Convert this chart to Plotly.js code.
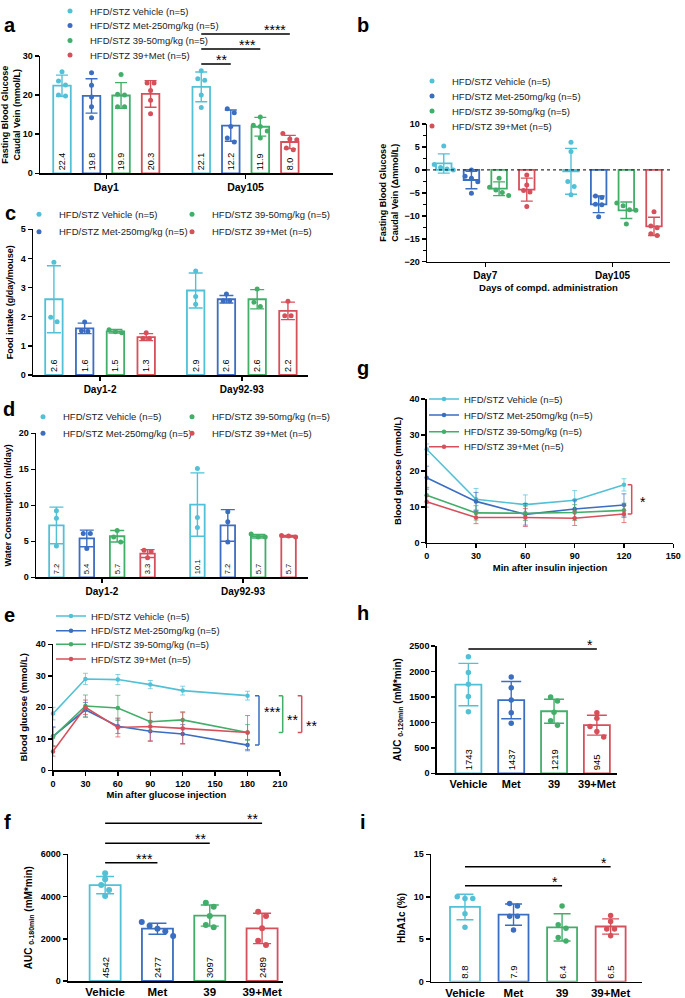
<!DOCTYPE html>
<html><head><meta charset="utf-8">
<script src="https://cdn.plot.ly/plotly-3.0.1.min.js"></script>
<style>html,body{margin:0;padding:0;background:#fff}</style>
</head><body>
<div id="chart" style="width:685px;height:998px"></div>
<script>
// ---------------- DATA ----------------
const seriesNames = ['HFD/STZ Vehicle (n=5)', 'HFD/STZ Met-250mg/kg (n=5)', 'HFD/STZ 39-50mg/kg (n=5)', 'HFD/STZ 39+Met (n=5)'];

// a: fasting blood glucose (mmol/L)
const aCategories = ['Day1', 'Day105'];
const aMean = [[22.4, 22.1], [19.8, 12.2], [19.9, 11.9], [20.3, 8.0]];
const aSD = [[2.7, 3.8], [4.4, 4.0], [3.3, 2.4], [3.4, 1.7]];
const aPoints = [
  [[26.0, 23.6, 22.6, 20.0, 19.8], [26.2, 24.2, 23.8, 20.0, 16.8]],
  [[25.7, 22.5, 19.5, 17.0, 14.2], [16.5, 15.5, 12.0, 9.0, 8.0]],
  [[25.3, 20.2, 20.0, 17.0, 17.0], [14.4, 12.3, 12.0, 10.8, 9.0]],
  [[23.1, 23.1, 21.2, 18.7, 15.2], [10.2, 8.8, 8.6, 6.5, 6.0]]
];

// b: change of fasting blood glucose (delta mmol/L)
const bCategories = ['Day7', 'Day105'];
const bMean = [[1.4, -0.3], [-2.2, -7.5], [-4.1, -8.8], [-4.3, -12.3]];
const bSD = [[2.1, 5.0], [1.9, 1.8], [1.5, 1.8], [2.5, 2.0]];
const bPoints = [
  [[5.2, 1.2, 0.5, 0.2, 0.0], [6.0, 4.0, -2.5, -3.6, -5.4]],
  [[0.0, -1.4, -1.8, -2.6, -5.1], [-5.7, -6.0, -7.5, -7.6, -10.2]],
  [[-1.8, -3.8, -4.4, -4.9, -5.6], [-7.2, -7.8, -8.7, -8.8, -11.8]],
  [[-1.1, -3.3, -4.5, -4.8, -8.0], [-9.1, -12.2, -12.6, -13.9, -14.3]]
];

// c: food intake (g/day/mouse)
const cCategories = ['Day1-2', 'Day92-93'];
const cMean = [[2.6, 2.9], [1.6, 2.6], [1.5, 2.6], [1.3, 2.2]];
const cSD = [[1.15, 0.6], [0.18, 0.13], [0.06, 0.33], [0.12, 0.3]];
const cPoints = [
  [[3.87, 1.98, 1.83], [3.57, 2.69, 2.43]],
  [[1.82, 1.52, 1.5], [2.78, 2.55, 2.55]],
  [[1.55, 1.48, 1.45], [2.95, 2.5, 2.35]],
  [[1.45, 1.25, 1.25], [2.53, 2.03, 2.03]]
];

// d: water consumption (ml/day)
const dCategories = ['Day1-2', 'Day92-93'];
const dMean = [[7.2, 10.1], [5.4, 7.2], [5.7, 5.7], [3.3, 5.7]];
const dSD = [[2.55, 4.4], [1.15, 2.2], [0.8, 0.25], [0.55, 0.1]];
const dPoints = [
  [[9.25, 8.2, 4.35], [15.1, 8.3, 6.9]],
  [[6.1, 6.1, 4.0], [9.1, 7.7, 4.9]],
  [[6.5, 5.6, 4.9], [6.0, 5.6, 5.6]],
  [[3.75, 3.6, 2.7], [5.8, 5.75, 5.6]]
];

// e: glucose tolerance (mmol/L)
const eTime = [0, 30, 60, 90, 120, 180];
const eMean = [
  [18.0, 29.0, 28.8, 27.2, 25.3, 23.7],
  [10.8, 19.2, 14.0, 12.4, 11.5, 8.0],
  [10.6, 20.4, 19.8, 15.4, 16.0, 12.0],
  [6.0, 20.0, 13.6, 13.9, 13.3, 12.0]
];
const eSD = [
  [2.0, 1.8, 1.6, 1.3, 1.4, 1.4],
  [3.0, 2.3, 2.3, 3.2, 3.0, 1.8],
  [3.0, 3.5, 4.0, 3.0, 2.6, 2.5],
  [1.5, 2.3, 3.0, 4.5, 5.0, 5.4]
];

// f: AUC 0-180 min
const fCategories = ['Vehicle', 'Met', '39', '39+Met'];
const fMean = [4542, 2477, 3097, 2489];
const fSD = [410, 260, 500, 720];
const fPoints = [[5100, 4820, 4550, 4310, 4030], [2790, 2620, 2480, 2360, 2135], [3710, 3520, 3080, 2650, 2545], [3280, 3080, 2500, 1910, 1700]];

// g: insulin tolerance (mmol/L)
const gTime = [0, 30, 60, 90, 120];
const gMean = [
  [26.0, 12.1, 10.6, 11.8, 16.1],
  [18.1, 11.5, 7.9, 9.4, 10.5],
  [13.2, 8.3, 8.2, 8.4, 9.0],
  [11.4, 7.0, 7.0, 6.8, 8.0]
];
const gSD = [
  [1.5, 3.0, 2.7, 2.7, 1.7],
  [3.2, 2.5, 3.0, 2.5, 3.1],
  [2.2, 2.0, 2.0, 2.2, 2.0],
  [1.5, 1.7, 2.5, 2.0, 2.4]
];

// h: AUC 0-120 min
const hCategories = ['Vehicle', 'Met', '39', '39+Met'];
const hMean = [1743, 1437, 1219, 945];
const hSD = [415, 365, 235, 195];
const hPoints = [[2290, 1980, 1750, 1510, 1210], [1890, 1680, 1440, 1190, 985], [1500, 1420, 1200, 1030, 945], [1190, 1080, 920, 820, 715]];

// i: HbA1c (%)
const iCategories = ['Vehicle', 'Met', '39', '39+Met'];
const iMean = [8.8, 7.9, 6.4, 6.5];
const iSD = [1.5, 1.25, 1.6, 0.9];
const iPoints = [[10.0, 9.8, 9.8, 8.0, 6.4], [9.2, 8.9, 7.7, 7.7, 6.1], [8.9, 6.7, 6.3, 5.2, 4.8], [7.8, 7.1, 6.2, 6.2, 5.4]];

// ---------------- STYLE / LAYOUT ----------------
const W = 685, H = 998;
const FONT = '"Liberation Sans", Arial, Helvetica, sans-serif';
const COLORS = ['#52c1d6', '#3b6dc0', '#43ae6a', '#d6505b'];
const ERR_LINE = ['rgba(82,193,214,0.7)', 'rgba(59,109,192,0.7)', 'rgba(67,174,106,0.7)', 'rgba(214,80,91,0.7)'];
const fx = p => p / W;
const fy = p => 1 - p / H;
const BOLD = size => ({family: FONT, size: size, color: '#000', weight: 'bold'});

const traces = [];
const layout = {
  width: W, height: H, margin: {l: 0, r: 0, t: 0, b: 0, autoexpand: false},
  paper_bgcolor: '#fff', plot_bgcolor: 'rgba(0,0,0,0)',
  barmode: 'overlay', showlegend: true,
  font: {family: FONT, size: 9, color: '#000'},
  shapes: [], annotations: []
};

// one single-entry legend per series row (ids start at 5)
let legendCount = 4;
function makeLegend(symbolX, rowY) {
  legendCount += 1;
  const id = 'legend' + legendCount;
  layout[id] = {x: fx(symbolX - 20), y: fy(rowY), xref: 'paper', yref: 'paper', xanchor: 'left', yanchor: 'middle',
    bgcolor: 'rgba(0,0,0,0)', borderwidth: 0, font: {family: FONT, size: 9.5, color: '#222'},
    itemclick: false, itemdoubleclick: false};
  return id;
}

function setAxes(n, cfg) {
  const sx = n === 1 ? '' : String(n);
  const xid = 'x' + sx, yid = 'y' + sx;
  const common = {showline: true, linecolor: '#000', linewidth: 1.5, ticks: 'outside', ticklen: 4,
    tickwidth: 1.5, tickcolor: '#000', showgrid: false, zeroline: false, fixedrange: true, tickfont: BOLD(9)};
  layout['xaxis' + sx] = Object.assign({}, common, {anchor: yid, domain: [fx(cfg.xpx[0]), fx(cfg.xpx[1])], range: cfg.xrange}, cfg.xaxis || {});
  layout['yaxis' + sx] = Object.assign({}, common, {anchor: xid, domain: [fy(cfg.ypx[1]), fy(cfg.ypx[0])], range: cfg.yrange}, cfg.yaxis || {});
  return {xid: xid, yid: yid};
}

// horizontal spreading of points with near-equal values (column scatter)
function spreadOffsets(vals, tol) {
  const idx = vals.map((v, i) => i).sort((a, b) => vals[b] - vals[a]);
  const off = new Array(vals.length).fill(0);
  let cluster = [idx[0]];
  const flush = () => { const k = cluster.length; cluster.forEach((j, m) => { off[j] = m - (k - 1) / 2; }); };
  for (let t = 1; t < idx.length; t++) {
    if (Math.abs(vals[idx[t]] - vals[cluster[cluster.length - 1]]) < tol) cluster.push(idx[t]);
    else { flush(); cluster = [idx[t]]; }
  }
  flush();
  return off;
}

function barTrace(ax, xs, ys, errs, s, st) {
  const t = {type: 'bar', xaxis: ax.xid, yaxis: ax.yid, x: xs, y: ys, width: st.width,
    marker: {color: '#fff', line: {color: COLORS[s], width: 1.8}},
    error_y: {type: 'data', array: errs, visible: true, color: COLORS[s], thickness: 1.4, width: st.cap},
    showlegend: false, hoverinfo: 'skip'};
  if (st.digits !== undefined) {
    t.text = ys.map(v => v.toFixed(st.digits));
    t.textposition = 'inside'; t.insidetextanchor = 'start'; t.textangle = -90;
    t.insidetextfont = {family: FONT, size: st.labelSize, color: '#000'};
    t.textfont = {family: FONT, size: st.labelSize, color: '#000'};
  }
  return t;
}

function pointTrace(ax, xs, ys, s, st, legendIds) {
  const t = {type: 'scatter', mode: 'markers', xaxis: ax.xid, yaxis: ax.yid, x: xs, y: ys,
    name: seriesNames[s], marker: {color: COLORS[s], size: st.dot}, hoverinfo: 'skip', cliponaxis: false,
    showlegend: !!legendIds};
  if (legendIds) t.legend = legendIds[s];
  return t;
}

function groupedBarPanel(ax, mean, sd, pts, st, legendIds) {
  const pos = (ci, s) => ci + (s - 1.5) * st.spacing;
  for (let s = 0; s < 4; s++) traces.push(barTrace(ax, mean[s].map((_, ci) => pos(ci, s)), mean[s], sd[s], s, st));
  for (let s = 0; s < 4; s++) {
    const xs = [], ys = [];
    pts[s].forEach((grp, ci) => {
      const off = spreadOffsets(grp, st.tol);
      grp.forEach((v, j) => { xs.push(pos(ci, s) + off[j] * st.step); ys.push(v); });
    });
    traces.push(pointTrace(ax, xs, ys, s, st, legendIds));
  }
  return pos;
}

function singleBarPanel(ax, mean, sd, pts, st) {
  for (let s = 0; s < 4; s++) traces.push(barTrace(ax, [s], [mean[s]], [sd[s]], s, st));
  for (let s = 0; s < 4; s++) {
    const off = spreadOffsets(pts[s], st.tol);
    traces.push(pointTrace(ax, pts[s].map((v, j) => s + off[j] * st.step), pts[s], s, st, null));
  }
}

function linePanel(ax, t, mean, sd, legendIds) {
  for (let s = 0; s < 4; s++) {
    traces.push({type: 'scatter', mode: 'lines+markers', xaxis: ax.xid, yaxis: ax.yid, x: t, y: mean[s],
      name: seriesNames[s], line: {color: COLORS[s], width: 1.6}, marker: {color: COLORS[s], size: 4.5},
      error_y: {type: 'data', array: sd[s], visible: true, color: ERR_LINE[s], thickness: 1, width: 2.5},
      legend: legendIds[s], showlegend: true, hoverinfo: 'skip', cliponaxis: false});
  }
}

function sigLine(ax, x0, x1, ypx, stars) {
  layout.shapes.push({type: 'line', xref: ax.xid, yref: 'paper', x0: x0, x1: x1, y0: fy(ypx), y1: fy(ypx), line: {color: '#000', width: 1.5}});
  layout.annotations.push({xref: ax.xid, yref: 'paper', x: x1, y: fy(ypx), text: stars, showarrow: false,
    xanchor: 'right', yanchor: 'bottom', xshift: -2, yshift: -6, font: {family: FONT, size: 14, color: '#000'}});
}

function bracket(ax, xpx, yTop, yBot, color, stars, txpx, typx) {
  const xr = fx(xpx), xl = fx(xpx - 4);
  const ln = {color: color, width: 1.5};
  layout.shapes.push({type: 'line', xref: 'paper', yref: ax.yid, x0: xl, x1: xr, y0: yTop, y1: yTop, line: ln});
  layout.shapes.push({type: 'line', xref: 'paper', yref: ax.yid, x0: xr, x1: xr, y0: yTop, y1: yBot, line: ln});
  layout.shapes.push({type: 'line', xref: 'paper', yref: ax.yid, x0: xl, x1: xr, y0: yBot, y1: yBot, line: ln});
  layout.annotations.push({xref: 'paper', yref: 'paper', x: fx(txpx), y: fy(typx + 3), text: stars, showarrow: false,
    xanchor: 'left', yanchor: 'middle', font: {family: FONT, size: 14, color: '#000'}});
}

function panelLetter(letter, xpx, ypx) {
  layout.annotations.push({xref: 'paper', yref: 'paper', x: fx(xpx), y: fy(ypx), text: letter, showarrow: false,
    xanchor: 'center', yanchor: 'middle', font: BOLD(20)});
}

// ---- panel a ----
const axA = setAxes(1, {xpx: [40, 333], ypx: [56, 173.3], xrange: [-0.476, 1.628], yrange: [0, 30],
  xaxis: {tickvals: [0, 1], ticktext: aCategories, tickfont: BOLD(10.5)},
  yaxis: {dtick: 10, title: {text: 'Fasting Blood Glucose<br>Caudal Vein (mmol/L)', font: BOLD(9), standoff: 4}}});
const legA = [11, 25.5, 40.5, 55].map(y => makeLegend(70, y));
const posA = groupedBarPanel(axA, aMean, aSD, aPoints, {spacing: 0.212, width: 0.126, cap: 6, dot: 5, tol: 1.4, step: 0.05, digits: 1, labelSize: 9}, legA);
sigLine(axA, posA(1, 0), posA(1, 3), 34, '****');
sigLine(axA, posA(1, 0), posA(1, 2), 49, '***');
sigLine(axA, posA(1, 0), posA(1, 1), 64, '**');

// ---- panel b ----
const axB = setAxes(2, {xpx: [427, 670], ypx: [124, 261.7], xrange: [-0.458, 1.452], yrange: [-20, 10],
  xaxis: {tickvals: [0, 1], ticktext: bCategories, tickfont: BOLD(10), title: {text: 'Days of compd. administration', font: BOLD(9.5), standoff: 4}},
  yaxis: {dtick: 5, minor: {ticks: 'outside', ticklen: 2.5, tickwidth: 1, dtick: 2.5, tickcolor: '#000'},
    title: {text: 'Fasting Blood Glucose<br>Caudal Vein (\u0394mmol/L)', font: BOLD(9), standoff: 4}}});
const legB = [81, 96, 111, 126].map(y => makeLegend(432, y));
groupedBarPanel(axB, bMean, bSD, bPoints, {spacing: 0.2175, width: 0.122, cap: 6, dot: 5, tol: 1.2, step: 0.05}, legB);
layout.shapes.push({type: 'line', xref: 'x2 domain', yref: 'y2', x0: 0, x1: 1, y0: 0, y1: 0, line: {color: '#333', width: 1.2, dash: 'dot'}});

// ---- panel c ----
const axC = setAxes(3, {xpx: [33, 308], ypx: [229.3, 375], xrange: [-0.473, 1.467], yrange: [0, 5],
  xaxis: {tickvals: [0, 1], ticktext: cCategories, tickfont: BOLD(10)},
  yaxis: {dtick: 1, title: {text: 'Food intake (g/day/mouse)', font: BOLD(9), standoff: 5}}});
const legC = [makeLegend(39, 214.3), makeLegend(39, 231.7), makeLegend(192, 214.3), makeLegend(192, 231.7)];
groupedBarPanel(axC, cMean, cSD, cPoints, {spacing: 0.217, width: 0.123, cap: 7, dot: 5, tol: 0.19, step: 0.045, digits: 1, labelSize: 9}, legC);

// ---- panel d ----
const axD = setAxes(4, {xpx: [36, 308], ypx: [433.3, 577.3], xrange: [-0.468, 1.461], yrange: [0, 20],
  xaxis: {tickvals: [0, 1], ticktext: dCategories, tickfont: BOLD(10)},
  yaxis: {dtick: 5, title: {text: 'Water Consumption (ml/day)', font: BOLD(9), standoff: 5}}});
const legD = [makeLegend(43, 416.7), makeLegend(43, 433.3), makeLegend(192, 416.7), makeLegend(192, 433.3)];
groupedBarPanel(axD, dMean, dSD, dPoints, {spacing: 0.2155, width: 0.103, cap: 7, dot: 5, tol: 0.76, step: 0.05, digits: 1, labelSize: 9}, legD);

// ---- panel e ----
const axE = setAxes(5, {xpx: [53, 280], ypx: [644.3, 770.3], xrange: [0, 210], yrange: [0, 40],
  xaxis: {dtick: 30, title: {text: 'Min after glucose injection', font: BOLD(9.5), standoff: 3}},
  yaxis: {dtick: 10, title: {text: 'Blood glucose (mmol/L)', font: BOLD(9.5), standoff: 6}}});
const legE = [616, 630.7, 644.3, 659].map(y => makeLegend(71, y));
linePanel(axE, eTime, eMean, eSD, legE);
const eLast = eTime.length - 1;
bracket(axE, 259, eMean[0][eLast], eMean[1][eLast], COLORS[1], '***', 262, 709);
bracket(axE, 282.7, eMean[0][eLast], eMean[2][eLast], COLORS[2], '**', 285, 717);
bracket(axE, 301.7, eMean[0][eLast], eMean[3][eLast], COLORS[3], '**', 304, 723);

// ---- panel f ----
const axF = setAxes(6, {xpx: [68, 283], ypx: [854.3, 981], xrange: [-0.71, 3.4], yrange: [0, 6000],
  xaxis: {tickvals: [0, 1, 2, 3], ticktext: fCategories, tickfont: BOLD(11.5), ticks: ''},
  yaxis: {dtick: 2000, title: {text: 'AUC <sub>0-180min</sub> (mM*min)', font: BOLD(10), standoff: 6}}});
singleBarPanel(axF, fMean, fSD, fPoints, {width: 0.593, cap: 9, dot: 6, tol: 260, step: 0.15, digits: 0, labelSize: 9.5});
sigLine(axF, 0, 3, 823.3, '**');
sigLine(axF, 0, 2, 843.3, '**');
sigLine(axF, 0, 1, 862.7, '***');

// ---- panel g ----
const axG = setAxes(7, {xpx: [426.7, 673.3], ypx: [399, 542.7], xrange: [0, 150], yrange: [0, 40],
  xaxis: {dtick: 30, title: {text: 'Min after insulin injection', font: BOLD(9.5), standoff: 4}},
  yaxis: {dtick: 10, title: {text: 'Blood glucose (mmol/L)', font: BOLD(9.5), standoff: 6}}});
const legG = [399, 415, 431.7, 446.7].map(y => makeLegend(444, y));
linePanel(axG, gTime, gMean, gSD, legG);
const gLast = gTime.length - 1;
bracket(axG, 631.7, gMean[0][gLast], gMean[3][gLast], COLORS[3], '*', 638, 499);

// ---- panel h ----
const axH = setAxes(8, {xpx: [436.7, 617], ypx: [646, 773.3], xrange: [-0.74, 3.47], yrange: [0, 2500],
  xaxis: {tickvals: [0, 1, 2, 3], ticktext: hCategories, tickfont: BOLD(11), ticks: ''},
  yaxis: {dtick: 500, title: {text: 'AUC <sub>0-120min</sub> (mM*min)', font: BOLD(10), standoff: 6}}});
singleBarPanel(axH, hMean, hSD, hPoints, {width: 0.607, cap: 10, dot: 5.5, tol: 108, step: 0.16, digits: 0, labelSize: 9.5});
sigLine(axH, 0, 3, 649, '*');

// ---- panel i ----
const axI = setAxes(9, {xpx: [431, 641.7], ypx: [854.3, 981.7], xrange: [-0.70, 3.64], yrange: [0, 15],
  xaxis: {tickvals: [0, 1, 2, 3], ticktext: iCategories, tickfont: BOLD(11.5), ticks: ''},
  yaxis: {dtick: 5, title: {text: 'HbA1c (%)', font: BOLD(10), standoff: 6}}});
singleBarPanel(axI, iMean, iSD, iPoints, {width: 0.617, cap: 8.5, dot: 5.5, tol: 0.65, step: 0.16, digits: 1, labelSize: 9.5});
sigLine(axI, 0, 3, 866.7, '*');
sigLine(axI, 0, 2, 885.7, '*');

// panel letters
[['a', 10, 25], ['b', 363, 25], ['c', 10, 213], ['d', 9, 409], ['e', 9, 615], ['f', 8, 822], ['g', 363, 368], ['h', 363, 613], ['i', 363, 822]]
  .forEach(p => panelLetter(p[0], p[1], p[2]));

Plotly.newPlot('chart', traces, layout, {staticPlot: true, displayModeBar: false});
</script>
</body></html>
